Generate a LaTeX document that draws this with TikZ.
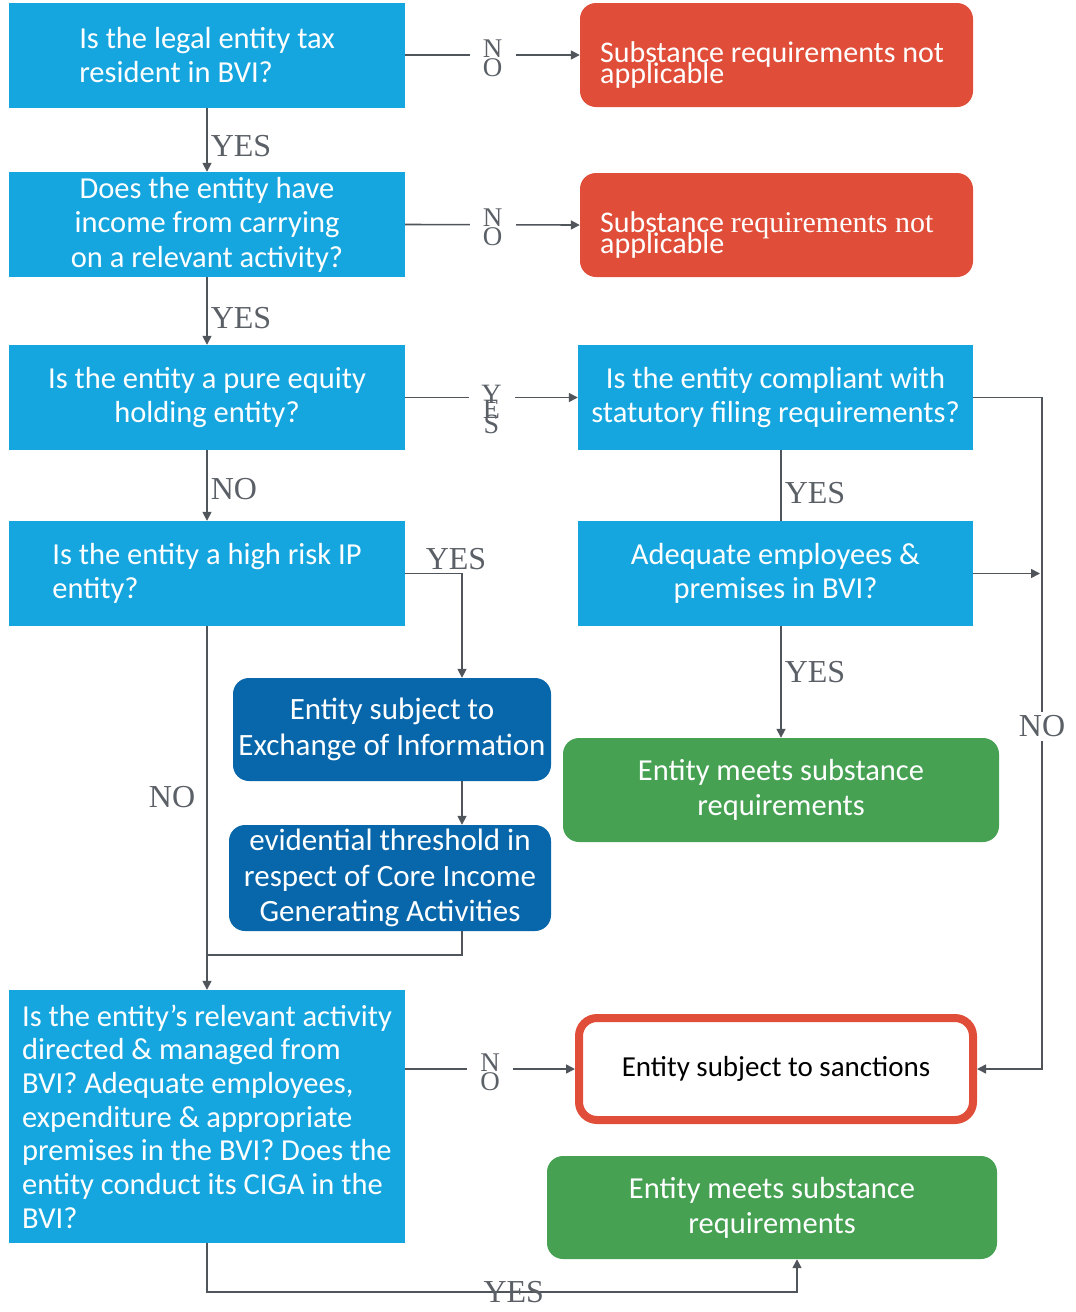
\documentclass[tikz,border=0pt]{standalone}
\usepackage{fontspec}
\setmainfont{Liberation Serif}
\newfontfamily\boxfont{Carlito}
\usetikzlibrary{arrows.meta,positioning}
\definecolor{qblue}{HTML}{16A6DF}
\definecolor{qred}{HTML}{E04E3A}
\definecolor{qgreen}{HTML}{46A153}
\definecolor{qdark}{HTML}{0867AA}
\definecolor{qline}{HTML}{50555B}
\definecolor{qtext}{HTML}{5B6067}
\newcommand\tightlines{\lineskiplimit-100pt\relax}

\begin{document}
\begin{tikzpicture}[x=1pt, y=-1pt,
    qbox/.style={fill=qblue, text=white, minimum width=396, minimum height=105,
        inner sep=0, font=\boxfont\fontsize{30.5}{34.5}\selectfont, align=center},
    redbox/.style={fill=qred, rounded corners=16, minimum width=393, minimum height=104, inner sep=0},
    redtxt/.style={text=white, inner sep=0, anchor=west, align=left,
        font=\boxfont\fontsize{30}{21}\selectfont\tightlines},
    darkbox/.style={fill=qdark, text=white, rounded corners=16, inner sep=0,
        font=\boxfont\fontsize{31}{35.5}\selectfont, align=center},
    greenbox/.style={fill=qgreen, text=white, rounded corners=16, inner sep=0, minimum height=104,
        font=\boxfont\fontsize{30.5}{35}\selectfont, align=center},
    sanct/.style={draw=qred, line width=8, fill=white, rounded corners=18, inner sep=0,
        minimum width=394, minimum height=102, font=\boxfont\fontsize{29}{30}\selectfont},
    conn/.style={draw=qline, line width=1.6},
    arr/.style={conn, -{Triangle[length=9, width=9]}},
    lbl/.style={text=qtext, inner sep=3, font=\fontsize{32}{32}\selectfont},
    stack/.style={text=qtext, fill=white, inner sep=0, minimum width=46, align=center},
]
\useasboundingbox (0,0) rectangle (1076,1312);

% Question boxes, left column
\node[qbox, align=left] (A1) at (207,55) {Is the legal entity tax\\resident in BVI?};
\node[qbox] (A2) at (207,224.5) {Does the entity have\\income from carrying\\on a relevant activity?};
\node[qbox] (A3) at (207,397.5) {Is the entity a pure equity\\holding entity?};
\node[qbox, align=left] (A4) at (207,573.5) {Is the entity a high risk IP\\entity?};
\node[qbox, align=left, minimum height=253, font=\boxfont\fontsize{30.5}{33.7}\selectfont] (A5) at (207,1116.5)
    {Is the entity’s relevant activity\\directed \& managed from\\BVI? Adequate employees,\\expenditure \& appropriate\\premises in the BVI? Does the\\entity conduct its CIGA in the\\BVI?};

% Outcomes, right column
\node[redbox] (R1) at (776.5,55) {};
\node[redtxt] (R1t) at (600,64.5) {Substance requirements not\\applicable};
\node[redbox] (R2) at (776.5,225) {};
\node[redtxt] (R2t) at (600,234.5) {Substance \rmfamily requirements not\\applicable};
\node[qbox, minimum width=395] (B1) at (775.5,397.5) {Is the entity compliant with\\statutory filing requirements?};
\node[qbox, minimum width=395] (B2) at (775.5,573.5) {Adequate employees \&\\premises in BVI?};
\node[greenbox, minimum width=436] (G1) at (781,790) {Entity meets substance\\requirements};
\node[sanct] (S) at (776,1069) {Entity subject to sanctions};
\node[greenbox, minimum width=450, minimum height=103] (G2) at (772,1207.5) {Entity meets substance\\requirements};

% IP branch
\node[darkbox, minimum width=318, minimum height=103] (D1) at (392,729.5) {Entity subject to\\Exchange of Information};
\node[darkbox, minimum width=322, minimum height=106] (D2) at (390,878) {evidential threshold in\\respect of Core Income\\Generating Activities};

% Helper points
\coordinate (ipx) at (462,0);
\coordinate (nobus) at (1042,578);
\coordinate (join) at (207,955);
\coordinate (yesbus) at (797,1292);

% Main column
\draw[arr] (A1.south) -- node[right, lbl, pos=0.6] {YES} (A2.north);
\draw[arr] (A2.south) -- node[right, lbl, pos=0.6] {YES} (A3.north);
\draw[arr] (A3.south) -- node[right, lbl, pos=0.55] {NO} (A4.north);
\draw[arr] (A4.south) -- node[left, lbl, pos=0.47, xshift=-8] {NO} (A5.north);

% Horizontal branches
\draw[arr] (A1.east) -- node[stack, font=\fontsize{27}{19}\selectfont\tightlines, yshift=-3] {N\\O} (R1.west);
\draw[arr] (A2.east) -- node[stack, font=\fontsize{27}{19}\selectfont\tightlines, yshift=-3] {N\\O} (R2.west);
\draw[arr] (A3.east) -- node[stack, font=\fontsize{28}{15}\selectfont\tightlines, yshift=-12] {Y\\E\\S} (B1.west);
\draw[arr] (A5.east |- S.west) -- node[stack, font=\fontsize{27}{19}\selectfont\tightlines, yshift=-3] {N\\O} (S.west);

% Right side
\draw[conn] (G1.north |- B1.south) -- node[right, lbl, pos=0.6] {YES} (G1.north |- B2.north);
\draw[arr] (G1.north |- B2.south) -- node[right, lbl, pos=0.41] {YES} (G1.north);
\draw[arr] (B1.east) -- (B1.east -| nobus) -- node[lbl, fill=white, inner xsep=0, inner ysep=4, pos=0.49] {NO} (nobus |- S.east) -- (S.east);
\draw[arr] (B2.east) -- ([xshift=-2]B2.east -| nobus);

% High risk IP branch
\draw[arr] (A4.east) -| node[pos=0.5, above, lbl, xshift=-6] {YES} (ipx |- D1.north);
\draw[arr] (ipx |- D1.south) -- (ipx |- D2.north);
\draw[conn] (ipx |- D2.south) |- (join);

% Bottom loop
\draw[arr] (A5.south) |- node[pos=0.76, lbl] {YES} (yesbus) -- (yesbus |- G2.south);
\end{tikzpicture}
\end{document}
